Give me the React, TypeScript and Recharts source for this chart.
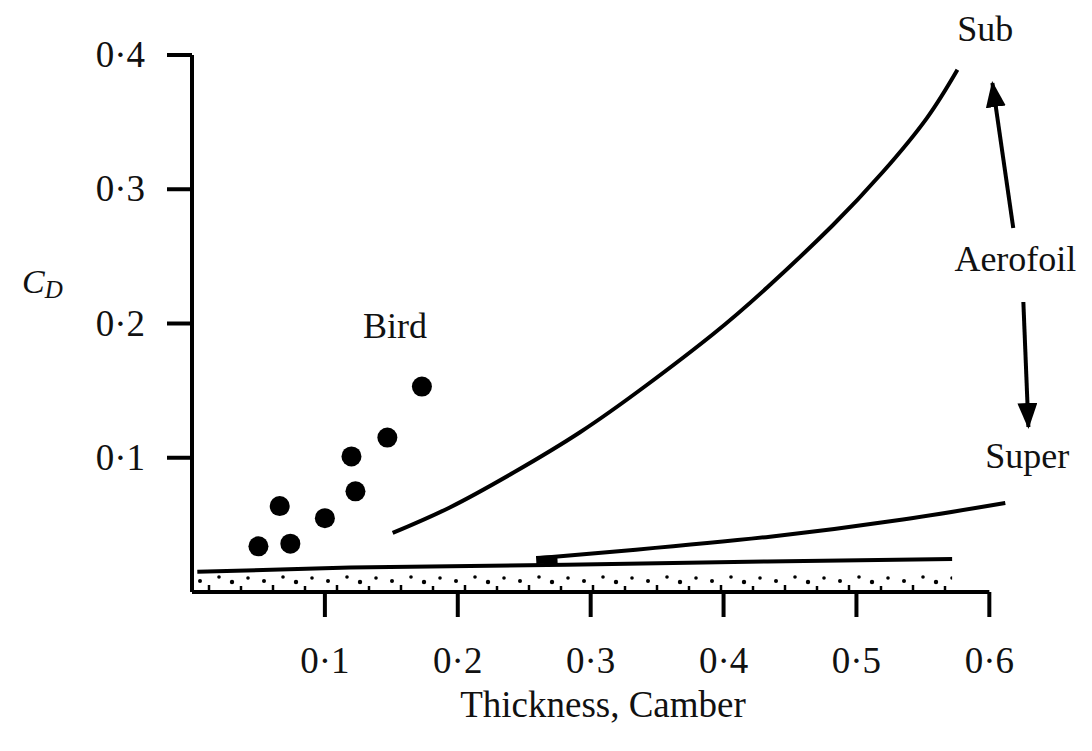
import {
  ComposedChart,
  XAxis,
  YAxis,
  Scatter,
  Line,
  Area,
  ReferenceLine,
  ReferenceDot,
} from 'recharts';

const FONT = '"Liberation Serif", "DejaVu Serif", serif';

// axis ticks
const xTicks = [0.1, 0.2, 0.3, 0.4, 0.5, 0.6];
const yTicks = [0.1, 0.2, 0.3, 0.4];

// bird measurements
const birdThickness = [0.05, 0.066, 0.074, 0.1, 0.12, 0.123, 0.147, 0.173];
const birdCd = [0.034, 0.064, 0.036, 0.055, 0.101, 0.075, 0.115, 0.153];

// subsonic aerofoil curve
const subThickness = [0.151, 0.194, 0.242, 0.292, 0.342, 0.392, 0.433, 0.482, 0.52, 0.553, 0.576];
const subCd = [0.044, 0.063, 0.089, 0.119, 0.154, 0.192, 0.227, 0.273, 0.313, 0.353, 0.389];

// supersonic aerofoil curve
const superThickness = [0.262, 0.334, 0.435, 0.535, 0.612];
const superCd = [0.0253, 0.0315, 0.0412, 0.054, 0.0663];
const superStubThickness = [0.259, 0.275];
const superStubCd = [0.0238, 0.0246];

// skin friction band
const bandThickness = [0.004, 0.119, 0.282, 0.433, 0.572];
const bandCd = [0.015, 0.0182, 0.0203, 0.0228, 0.0246];

// arrows from "Aerofoil"
const arrowUpThickness = [0.618, 0.6023];
const arrowUpCd = [0.2711, 0.3791];
const arrowDownThickness = [0.6256, 0.6294];
const arrowDownCd = [0.216, 0.1229];

// annotations
const noteText = ['Sub', 'Aerofoil', 'Super', 'Bird'];
const noteThickness = [0.597, 0.6196, 0.6286, 0.1528];
const noteCd = [0.4201, 0.2488, 0.102, 0.1989];

const toPoints = (xs: number[], ys: number[]) => xs.map((x, i) => ({ x, y: ys[i] }));
const fmt = (v: number) => v.toFixed(1).replace('.', '·');

const XTick = (p: any) => (
  <text x={p.x} y={p.y + 56} textAnchor="middle" fontSize={37} fontFamily={FONT} fill="#111">
    {fmt(p.payload.value)}
  </text>
);

const YTick = (p: any) => (
  <text x={p.x - 22} y={p.y + 12} textAnchor="end" fontSize={37} fontFamily={FONT} fill="#111">
    {fmt(p.payload.value)}
  </text>
);

const CdLabel = ({ viewBox }: any) => (
  <text x={viewBox.x + 22} y={viewBox.y + 238} fontFamily={FONT} fill="#111" fontStyle="italic">
    <tspan fontSize={34}>C</tspan>
    <tspan fontSize={25} dy={5}>D</tspan>
  </text>
);

const XLabel = ({ viewBox }: any) => (
  <text x={viewBox.x + 411} y={viewBox.y + 125} textAnchor="middle" fontSize={37} fontFamily={FONT} fill="#111">
    Thickness, Camber
  </text>
);

export default function App() {
  return (
    <div style={{ position: 'absolute', left: 0, top: 0, width: 1092, height: 751, background: '#fff' }}>
      <ComposedChart width={1092} height={751} margin={{ top: 55, right: 3, bottom: 0, left: 0 }}>
        <defs>
          <pattern id="stipple" patternUnits="userSpaceOnUse" x={192} y={560} width={64} height={32}>
            <circle cx={8} cy={21} r={2} fill="#000" />
            <circle cx={27} cy={17} r={1.8} fill="#000" />
            <circle cx={40} cy={22} r={2.2} fill="#000" />
            <circle cx={56} cy={18} r={1.8} fill="#000" />
            <line x1={17} y1={25} x2={17} y2={32} stroke="#000" strokeWidth={2.5} />
            <line x1={49} y1={26} x2={49} y2={32} stroke="#000" strokeWidth={2.5} />
          </pattern>
          <marker
            id="arrowHead"
            viewBox="0 0 26 20"
            markerWidth={26}
            markerHeight={20}
            refX={24}
            refY={10}
            orient="auto"
            markerUnits="userSpaceOnUse"
          >
            <path d="M0,0 L26,10 L0,20 Z" fill="#000" />
          </marker>
        </defs>
        <XAxis
          dataKey="x"
          type="number"
          domain={[0, 0.675]}
          ticks={xTicks}
          axisLine={false}
          tickLine={{ stroke: '#000', strokeWidth: 4 }}
          tickSize={25}
          tickMargin={0}
          tick={<XTick />}
          height={159}
          label={{ content: <XLabel /> }}
        />
        <YAxis
          dataKey="y"
          type="number"
          domain={[0, 0.4]}
          ticks={yTicks}
          axisLine={{ stroke: '#000', strokeWidth: 4 }}
          tickLine={{ stroke: '#000', strokeWidth: 4 }}
          tickSize={25}
          tickMargin={0}
          tick={<YTick />}
          width={192}
          label={{ content: <CdLabel /> }}
        />
        <Area
          data={toPoints(bandThickness, bandCd)}
          dataKey="y"
          type="linear"
          stroke="#000"
          strokeWidth={4}
          fill="url(#stipple)"
          fillOpacity={1}
          isAnimationActive={false}
        />
        <ReferenceLine
          segment={[{ x: 0, y: 0 }, { x: 0.6, y: 0 }]}
          stroke="#000"
          strokeWidth={4}
          ifOverflow="visible"
        />
        <Line
          data={toPoints(subThickness, subCd)}
          dataKey="y"
          type="natural"
          stroke="#000"
          strokeWidth={4}
          dot={false}
          isAnimationActive={false}
        />
        <Line
          data={toPoints(superThickness, superCd)}
          dataKey="y"
          type="natural"
          stroke="#000"
          strokeWidth={4}
          dot={false}
          isAnimationActive={false}
        />
        <Line
          data={toPoints(superStubThickness, superStubCd)}
          dataKey="y"
          type="linear"
          stroke="#000"
          strokeWidth={8}
          dot={false}
          isAnimationActive={false}
        />
        <Line
          data={toPoints(arrowUpThickness, arrowUpCd)}
          dataKey="y"
          type="linear"
          stroke="#000"
          strokeWidth={4}
          dot={false}
          markerEnd="url(#arrowHead)"
          isAnimationActive={false}
        />
        <Line
          data={toPoints(arrowDownThickness, arrowDownCd)}
          dataKey="y"
          type="linear"
          stroke="#000"
          strokeWidth={4}
          dot={false}
          markerEnd="url(#arrowHead)"
          isAnimationActive={false}
        />
        <Scatter
          data={toPoints(birdThickness, birdCd)}
          dataKey="y"
          fill="#000"
          shape={(p: any) => <circle cx={p.cx} cy={p.cy} r={10} fill="#000" />}
          isAnimationActive={false}
        />
        {noteText.map((t, i) => (
          <ReferenceDot
            key={t}
            x={noteThickness[i]}
            y={noteCd[i]}
            r={0}
            fill="none"
            stroke="none"
            ifOverflow="visible"
            label={{ value: t, position: 'center', fill: '#111', fontSize: 36, fontFamily: FONT }}
          />
        ))}
      </ComposedChart>
    </div>
  );
}
